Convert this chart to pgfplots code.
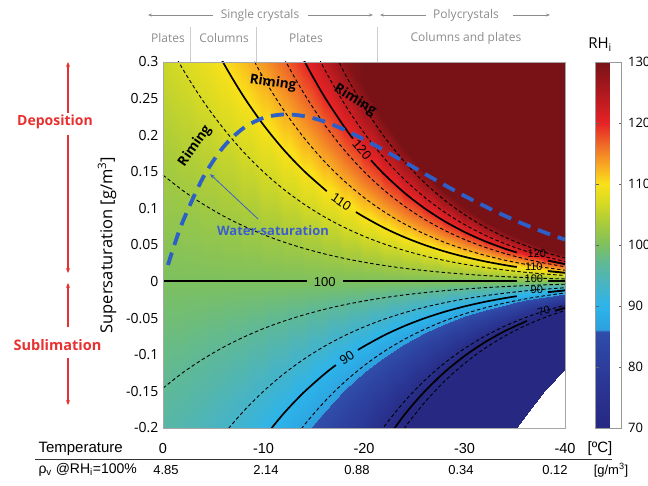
\documentclass[border=0pt]{standalone}
\usepackage{pgfplots}
\pgfplotsset{compat=1.18}
\usepackage{fontspec}
\setmainfont{Open Sans}
\newfontfamily\lib{Liberation Sans}
\usetikzlibrary{arrows.meta}
\definecolor{hdr}{RGB}{140,140,140}
\definecolor{redtxt}{RGB}{232,48,48}
\definecolor{wsblue}{RGB}{60,95,205}
\definecolor{wsline}{RGB}{45,95,200}
\pgfplotsset{colormap={rhi}{
rgb255(0pt)=(38,40,130)
rgb255(60pt)=(42,52,145)
rgb255(120pt)=(45,66,160)
rgb255(159pt)=(48,78,170)
rgb255(160pt)=(45,160,222)
rgb255(200pt)=(45,180,235)
rgb255(240pt)=(75,180,190)
rgb255(270pt)=(95,185,150)
rgb255(300pt)=(125,192,95)
rgb255(340pt)=(175,205,55)
rgb255(370pt)=(215,218,35)
rgb255(400pt)=(250,225,25)
rgb255(430pt)=(248,170,35)
rgb255(460pt)=(240,115,40)
rgb255(500pt)=(230,35,38)
rgb255(550pt)=(175,25,30)
rgb255(600pt)=(120,18,22)
}}
\tikzset{solidc/.style={black, line width=1.7pt, smooth},
solidl/.style={black, line width=1.9pt},
dashc/.style={black, line width=0.9pt, dash pattern=on 3.5pt off 2.5pt, smooth},
clab/.style={font=\lib\fontsize{13}{15}\selectfont, inner sep=0pt},
clabs/.style={font=\lib\fontsize{11}{13}\selectfont, inner sep=0pt}}
\begin{document}
\begin{tikzpicture}
\path[use as bounding box] (-163pt,-57pt) rectangle (485pt,428pt);
\begin{axis}[
 at={(0pt,0pt)}, anchor=south west, scale only axis,
 width=402pt, height=366pt,
 xmin=-40, xmax=0, x dir=reverse, ymin=-0.2, ymax=0.3,
 enlargelimits=false,
 xtick={0,-10,-20,-30,-40}, xticklabels={0,-10,-20,-30,-40},
 ytick={-0.2,-0.15,-0.1,-0.05,0,0.05,0.1,0.15,0.2,0.25,0.3},
 yticklabels={-0.2,-0.15,-0.1,-0.05,0,0.05,0.1,0.15,0.2,0.25,0.3},
 axis line style={black!35}, major tick length=0pt,
 xticklabel style={font=\lib\fontsize{14.5}{16}\selectfont, anchor=base, yshift=-25pt},
 yticklabel style={font=\fontsize{14}{16}\selectfont, xshift=-1pt},
 colormap name=rhi, point meta min=70, point meta max=130,
 colorbar,
 colorbar style={at={(parent axis.north east)}, anchor=north west, xshift=22pt,
   width=26pt, ytick={70,80,90,100,110,120,130},
   yticklabels={70,80,90,100,110,120,130},
   yticklabel style={font=\fontsize{13}{15}\selectfont, xshift=3pt},
   axis line style={black!40}, major tick length=3pt, tick style={black!60}},
 axis on top, clip=true
]
\addplot[surf, shader=interp, point meta=explicit, mesh/cols=7] table[meta index=2] {
x y m
0 -0.2 95.88
0 -0.2 95.88
0 -0.2 95.88
0 0 100
0 0.3 106.19
0 0.3 106.19
0 0.3 106.19
-2 -0.2 95.17
-2 -0.2 95.17
-2 -0.2 95.17
-2 0 100
-2 0.3 107.25
-2 0.3 107.25
-2 0.3 107.25
-4 -0.2 94.32
-4 -0.2 94.32
-4 -0.2 94.32
-4 0 100
-4 0.3 108.52
-4 0.3 108.52
-4 0.3 108.52
-6 -0.2 93.31
-6 -0.2 93.31
-6 -0.2 93.31
-6 0 100
-6 0.3 110.03
-6 0.3 110.03
-6 0.3 110.03
-8 -0.2 92.10
-8 -0.2 92.10
-8 -0.2 92.10
-8 0 100
-8 0.3 111.84
-8 0.3 111.84
-8 0.3 111.84
-10 -0.2 90.65
-10 -0.2 90.65
-10 -0.2 90.65
-10 0 100
-10 0.3 114.02
-10 0.3 114.02
-10 0.3 114.02
-12 -0.2 88.91
-12 -0.2 88.91
-12 -0.2 88.91
-12 0 100
-12 0.2705 115
-12 0.3 116.64
-12 0.3 116.64
-14 -0.2 86.80
-14 -0.2 86.80
-14 -0.2 86.80
-14 0 100
-14 0.2273 115
-14 0.3 119.80
-14 0.3 119.80
-16 -0.2 84.25
-16 -0.2 84.25
-16 -0.1778 86
-16 0 100
-16 0.1905 115
-16 0.3 123.62
-16 0.3 123.62
-18 -0.2 81.15
-18 -0.2 81.15
-18 -0.1485 86
-18 0 100
-18 0.1592 115
-18 0.3 128.28
-18 0.3 128.28
-20 -0.2 77.38
-20 -0.2 77.38
-20 -0.1238 86
-20 0 100
-20 0.1326 115
-20 0.2652 130
-20 0.3 130
-22 -0.2 72.75
-22 -0.2 72.75
-22 -0.1028 86
-22 0 100
-22 0.1101 115
-22 0.2202 130
-22 0.3 130
-24 -0.2 70
-24 -0.1824 70
-24 -0.0851 86
-24 0 100
-24 0.0912 115
-24 0.1824 130
-24 0.3 130
-26 -0.2 70
-26 -0.1506 70
-26 -0.0703 86
-26 0 100
-26 0.0753 115
-26 0.1506 130
-26 0.3 130
-28 -0.2 70
-28 -0.1239 70
-28 -0.0578 86
-28 0 100
-28 0.0620 115
-28 0.1239 130
-28 0.3 130
-30 -0.2 70
-30 -0.1017 70
-30 -0.0475 86
-30 0 100
-30 0.0509 115
-30 0.1017 130
-30 0.3 130
-32 -0.2 70
-32 -0.0831 70
-32 -0.0388 86
-32 0 100
-32 0.0416 115
-32 0.0831 130
-32 0.3 130
-34 -0.2 70
-34 -0.0677 70
-34 -0.0316 86
-34 0 100
-34 0.0339 115
-34 0.0677 130
-34 0.3 130
-35.1 -0.2 70
-35.1 -0.0603 70
-35.1 -0.0281 86
-35.1 0 100
-35.1 0.0302 115
-35.1 0.0603 130
-35.1 0.3 130
-36 -0.1832 70
-36 -0.0550 70
-36 -0.0256 86
-36 0 100
-36 0.0275 115
-36 0.0550 130
-36 0.3 130
-38 -0.1482 70
-38 -0.0445 70
-38 -0.0207 86
-38 0 100
-38 0.0222 115
-38 0.0445 130
-38 0.3 130
-40 -0.1195 70
-40 -0.0359 70
-40 -0.0167 86
-40 0 100
-40 0.0179 115
-40 0.0359 130
-40 0.3 130
};
% dashed contours
\addplot[dashc] coordinates {(0,0.1455) (-2,0.1241) (-4,0.1057) (-6,0.0897) (-8,0.0760) (-10,0.0642) (-12,0.0541) (-14,0.0455) (-16,0.0381) (-18,0.0318) (-20,0.0265) (-22,0.0220) (-24,0.0182) (-26,0.0151) (-28,0.0124) (-30,0.0102) (-32,0.0083) (-34,0.0068) (-36,0.0055) (-38,0.0044) (-40,0.0036)};
\addplot[dashc] coordinates {(0,-0.1455) (-2,-0.1241) (-4,-0.1057) (-6,-0.0897) (-8,-0.0760) (-10,-0.0642) (-12,-0.0541) (-14,-0.0455) (-16,-0.0381) (-18,-0.0318) (-20,-0.0265) (-22,-0.0220) (-24,-0.0182) (-26,-0.0151) (-28,-0.0124) (-30,-0.0102) (-32,-0.0083) (-34,-0.0068) (-36,-0.0055) (-38,-0.0044) (-40,-0.0036)};
\addplot[dashc] coordinates {(0,0.3394) (-2,0.2896) (-4,0.2465) (-6,0.2094) (-8,0.1773) (-10,0.1498) (-12,0.1262) (-14,0.1061) (-16,0.0889) (-18,0.0743) (-20,0.0619) (-22,0.0514) (-24,0.0426) (-26,0.0351) (-28,0.0289) (-30,0.0237) (-32,0.0194) (-34,0.0158) (-36,0.0128) (-38,0.0104) (-40,0.0084)};
\addplot[dashc] coordinates {(-4,-0.2465) (-6,-0.2094) (-8,-0.1773) (-10,-0.1498) (-12,-0.1262) (-14,-0.1061) (-16,-0.0889) (-18,-0.0743) (-20,-0.0619) (-22,-0.0514) (-24,-0.0426) (-26,-0.0351) (-28,-0.0289) (-30,-0.0237) (-32,-0.0194) (-34,-0.0158) (-36,-0.0128) (-38,-0.0104) (-40,-0.0084)};
\addplot[dashc] coordinates {(-8,0.3293) (-10,0.2782) (-12,0.2344) (-14,0.1970) (-16,0.1651) (-18,0.1379) (-20,0.1149) (-22,0.0954) (-24,0.0790) (-26,0.0653) (-28,0.0537) (-30,0.0441) (-32,0.0360) (-34,0.0293) (-36,0.0238) (-38,0.0193) (-40,0.0155)};
\addplot[dashc] coordinates {(-12,-0.2344) (-14,-0.1970) (-16,-0.1651) (-18,-0.1379) (-20,-0.1149) (-22,-0.0954) (-24,-0.0790) (-26,-0.0653) (-28,-0.0537) (-30,-0.0441) (-32,-0.0360) (-34,-0.0293) (-36,-0.0238) (-38,-0.0193) (-40,-0.0155)};
\addplot[dashc] coordinates {(-10,0.3638) (-12,0.3065) (-14,0.2576) (-16,0.2159) (-18,0.1804) (-20,0.1503) (-22,0.1248) (-24,0.1034) (-26,0.0853) (-28,0.0702) (-30,0.0576) (-32,0.0471) (-34,0.0384) (-36,0.0311) (-38,0.0252) (-40,0.0203)};
\addplot[dashc] coordinates {(-14,0.3485) (-16,0.2921) (-18,0.2440) (-20,0.2033) (-22,0.1688) (-24,0.1398) (-26,0.1155) (-28,0.0950) (-30,0.0780) (-32,0.0637) (-34,0.0519) (-36,0.0421) (-38,0.0341) (-40,0.0275)};
\addplot[dashc] coordinates {(-16,0.3429) (-18,0.2865) (-20,0.2387) (-22,0.1982) (-24,0.1642) (-26,0.1355) (-28,0.1115) (-30,0.0915) (-32,0.0748) (-34,0.0609) (-36,0.0495) (-38,0.0400) (-40,0.0323)};
\addplot[dashc] coordinates {(-20,-0.2387) (-22,-0.1982) (-24,-0.1642) (-26,-0.1355) (-28,-0.1115) (-30,-0.0915) (-32,-0.0748) (-34,-0.0609) (-36,-0.0495) (-38,-0.0400) (-40,-0.0323)};
\addplot[dashc] coordinates {(-22,-0.2422) (-24,-0.2006) (-26,-0.1657) (-28,-0.1363) (-30,-0.1119) (-32,-0.0914) (-34,-0.0745) (-36,-0.0605) (-38,-0.0489) (-40,-0.0394)};
% solid contours
\addplot[solidl] coordinates {(0,0.0004) (-5,0.0004) (-10,0.0004) (-14.3,0.0004)};
\addplot[solidl] coordinates {(-17.9,0.0004) (-25,0.0004) (-30,0.0004) (-35.2,0.0004)};
\addplot[solidl] coordinates {(-38.3,0.0004) (-40,0.0004)};
\addplot[solidc] coordinates {(-4,0.3522) (-6,0.2991) (-8,0.2533) (-10,0.2140) (-12,0.1803) (-14,0.1515) (-16,0.1270) (-16.3,0.1236)};
\addplot[solidc] coordinates {(-19.2,0.0951) (-20,0.0884) (-22,0.0734) (-24,0.0608) (-26,0.0502) (-28,0.0413) (-30,0.0339) (-32,0.0277) (-34,0.0226) (-35.2,0.0199)};
\addplot[solidl] coordinates {(-38.3,0.0144) (-40,0.0120)};
\addplot[solidc] coordinates {(-10,-0.2140) (-12,-0.1803) (-14,-0.1515) (-16,-0.1270) (-17.2,-0.1140)};
\addplot[solidc] coordinates {(-19.4,-0.0934) (-20,-0.0884) (-22,-0.0734) (-24,-0.0608) (-26,-0.0502) (-28,-0.0413) (-30,-0.0339) (-32,-0.0277) (-34,-0.0226) (-35.2,-0.0199)};
\addplot[solidl] coordinates {(-38.3,-0.0144) (-40,-0.0120)};
\addplot[solidc] coordinates {(-12,0.3606) (-14,0.3030) (-16,0.2540) (-18,0.2122) (-18.9,0.1954)};
\addplot[solidc] coordinates {(-20.7,0.1657) (-22,0.1468) (-24,0.1216) (-26,0.1004) (-28,0.0826) (-30,0.0678) (-32,0.0554) (-34,0.0451) (-35.2,0.0398)};
\addplot[solidl] coordinates {(-38.3,0.0287) (-40,0.0239)};
\addplot[solidc] coordinates {(-22,-0.2202) (-24,-0.1824) (-26,-0.1506) (-28,-0.1239) (-30,-0.1017) (-32,-0.0831) (-34,-0.0677) (-36,-0.0550) (-36.2,-0.0538)};
\addplot[solidl] coordinates {(-39,-0.0399) (-40,-0.0359)};
% water saturation
\addplot[wsline, line width=3.8pt, dash pattern=on 13pt off 8pt, smooth] coordinates {(-0.5,0.0227) (-1,0.0446) (-2,0.083) (-4,0.1425) (-6,0.1837) (-8,0.2096) (-10,0.2236) (-12,0.2284) (-14,0.2262) (-16,0.2190) (-18,0.2078) (-20,0.1941) (-22,0.1794) (-24,0.1637) (-26,0.1477) (-28,0.1321) (-30,0.1171) (-32,0.1031) (-34,0.0900) (-36,0.0779) (-38,0.0671) (-40,0.0573)};
% contour labels
\node[clab] at (axis cs:-16.1,0) {100};
\node[clab, rotate=-34] at (axis cs:-17.75,0.109) {110};
\node[clab, rotate=-50] at (axis cs:-19.8,0.18) {120};
\node[clab, rotate=34] at (axis cs:-18.3,-0.104) {90};
\node[clabs] at (axis cs:-37.2,0.0377) {120};
\node[clabs] at (axis cs:-36.9,0.020) {110};
\node[clabs] at (axis cs:-36.9,0.004) {100};
\node[clabs] at (axis cs:-37.2,-0.0115) {90};
\node[clabs, rotate=15] at (axis cs:-37.9,-0.040) {70};
\end{axis}
% header
\begin{scope}[font=\fontsize{12}{14}\selectfont, text=hdr]
\draw[hdr, line width=0.6pt, -{Stealth[length=4pt]}] (50pt,413pt) -- (-15pt,413pt);
\node at (97pt,413pt) {Single crystals};
\draw[hdr, line width=0.6pt, -{Stealth[length=4pt]}] (145pt,413pt) -- (210pt,413pt);
\draw[hdr, line width=0.6pt, -{Stealth[length=4pt]}] (263pt,413pt) -- (217pt,413pt);
\node at (303pt,413pt) {Polycrystals};
\draw[hdr, line width=0.6pt, -{Stealth[length=4pt]}] (350pt,413pt) -- (387pt,413pt);
\node at (5pt,390pt) {Plates};
\node at (61pt,390pt) {Columns};
\node at (143pt,390pt) {Plates};
\node at (303pt,390pt) {Columns and plates};
\draw[black!20, line width=0.8pt] (27.5pt,401pt) -- (27.5pt,366pt);
\draw[black!20, line width=0.8pt] (93.5pt,401pt) -- (93.5pt,366pt);
\draw[black!20, line width=0.8pt] (214pt,401pt) -- (214pt,366pt);
\end{scope}
% colorbar title
\node[font=\fontsize{15}{17}\selectfont] at (437pt,383pt) {RH\textsubscript{i}};
% y label
\node[rotate=90, font=\fontsize{16.5}{18}\selectfont] at (-56pt,183pt) {Supersaturation [g/m\textsuperscript{3}]};
% left annotations
\node[text=redtxt, font=\bfseries\fontsize{14}{16}\selectfont] at (-108pt,306pt) {Deposition};
\node[text=redtxt, font=\bfseries\fontsize{14.5}{16}\selectfont] at (-105.5pt,83pt) {Sublimation};
\draw[redtxt, line width=1.3pt, -{Stealth[length=5pt,width=4pt]}] (-95pt,315pt) -- (-95pt,366pt);
\draw[redtxt, line width=1.3pt, -{Stealth[length=5pt,width=4pt]}] (-95pt,293pt) -- (-95pt,155pt);
\draw[redtxt, line width=1.3pt, -{Stealth[length=5pt,width=4pt]}] (-95pt,101pt) -- (-95pt,145pt);
\draw[redtxt, line width=1.3pt, -{Stealth[length=5pt,width=4pt]}] (-95pt,70pt) -- (-95pt,23pt);
% riming labels
\node[font=\bfseries\fontsize{13.5}{15}\selectfont, rotate=55] at (32pt,282pt) {Riming};
\node[font=\bfseries\fontsize{13.5}{15}\selectfont, rotate=-8] at (110pt,345pt) {Riming};
\node[font=\bfseries\fontsize{13.5}{15}\selectfont, rotate=-32] at (192pt,328pt) {Riming};
% water saturation label
\node[text=wsblue, font=\bfseries\fontsize{13}{15}\selectfont] at (110pt,197pt) {Water-saturation};
\draw[wsblue, line width=0.8pt, -{Stealth[length=5pt]}] (95pt,209pt) -- (47pt,254pt);
% bottom rows
\begin{scope}[font=\lib\fontsize{15}{17}\selectfont]
\node[anchor=west] at (-128pt,-21pt) {Temperature};
\node at (437pt,-21pt) {[ºC]};
\draw[black!80, line width=0.8pt] (-128pt,-31pt) -- (449pt,-31pt);
\end{scope}
\begin{scope}[font=\lib\fontsize{13}{15}\selectfont]
\node[anchor=west] at (-128pt,-42pt) {\fontsize{14}{15}\selectfont ρ\textsubscript{v} @RH\textsubscript{i}=100\%};
\node at (3pt,-42pt) {4.85};
\node at (103pt,-42pt) {2.14};
\node at (194pt,-42pt) {0.88};
\node at (298pt,-42pt) {0.34};
\node at (392pt,-42pt) {0.12};
\node at (448pt,-42pt) {[g/m\textsuperscript{3}]};
\end{scope}
\end{tikzpicture}
\end{document}
